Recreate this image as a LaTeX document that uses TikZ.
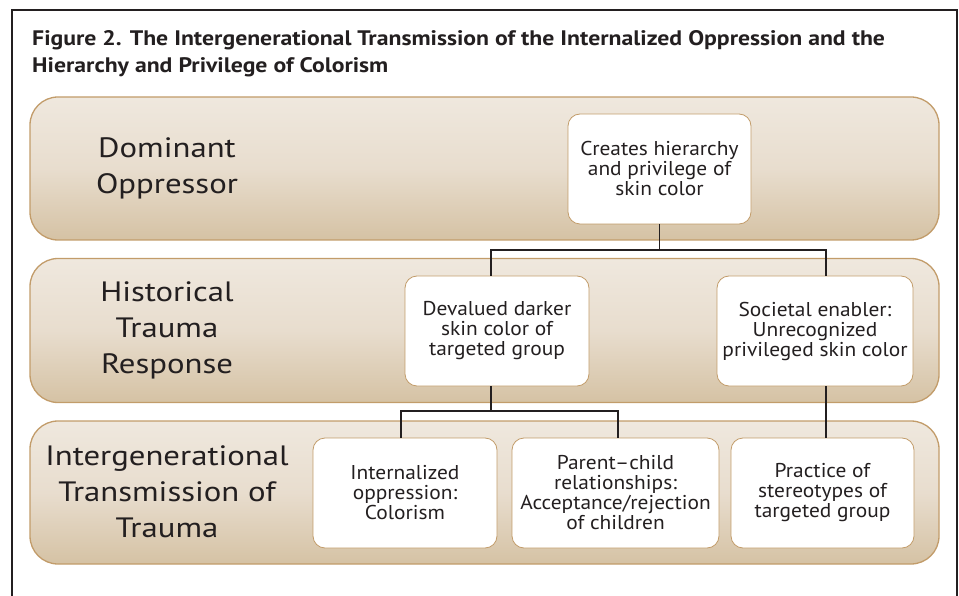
\documentclass[tikz,border=0pt]{standalone}
\usepackage{fontspec}
\setmainfont{PT Sans}
\newfontfamily\titlefont[FakeStretch=1.13,Ligatures=TeX]{PT Sans}
\newfontfamily\labfont[FakeStretch=1.17,Ligatures=TeX]{PT Sans}
\newfontfamily\boxfont[FakeStretch=1.07,Ligatures=TeX]{PT Sans}
\definecolor{bandtop}{HTML}{EFE8DE}
\definecolor{bandmid}{HTML}{E8DDCE}
\definecolor{bandbot}{HTML}{D5C2A4}
\definecolor{tan}{HTML}{C29C6A}
\definecolor{ink}{HTML}{231F20}
\tikzset{
  band/.style={draw=tan, line width=1.3pt, rounded corners=28pt, top color=bandtop, bottom color=bandbot, middle color=bandmid, inner sep=0pt, outer sep=0pt},
  box/.style={draw=tan, line width=0.8pt, fill=white, rounded corners=12pt, align=center, inner sep=0pt, outer sep=0pt, font=\boxfont\fontsize{20}{20}\selectfont, text=ink},
  lab/.style={align=center, font=\labfont\fontsize{28}{36}\selectfont, text=ink},
  conn/.style={draw=ink, line width=1.6pt},
  frame/.style={draw=ink, line width=2.5pt},
  ttl/.style={anchor=north west, align=left, inner sep=0pt, font=\titlefont\bfseries\fontsize{21}{27}\selectfont, text=ink}
}
\begin{document}
\begin{tikzpicture}[x=1pt,y=-1pt]
\useasboundingbox (0,0) rectangle (959,596);
\coordinate (f1) at (12,600);
\coordinate (f2) at (12,10);
\coordinate (f3) at (957,10);
\coordinate (f4) at (957,600);
\draw[frame] (f1) -- (f2) -- (f3) -- (f4);
\node[ttl] (title) at (32,30) {Figure 2. The Intergenerational Transmission of the Internalized Oppression and the\\Hierarchy and Privilege of Colorism};
% bands
\node[band, minimum width=909pt, minimum height=143pt] (b1) at (484.5,168.5) {};
\node[band, minimum width=909pt, minimum height=144pt] (b2) at (484.5,330.5) {};
\node[band, minimum width=909pt, minimum height=143pt] (b3) at (484.5,492.5) {};
\node[lab] (l1) at (167,168) {Dominant\\Oppressor};
\node[lab] (l2) at (167,330) {Historical\\Trauma\\Response};
\node[lab] (l3) at (167,492) {Intergenerational\\Transmission of\\Trauma};
% boxes
\node[box, minimum width=183pt, minimum height=110pt] (cre) at (659.5,169) {Creates hierarchy\\and privilege of\\skin color};
\node[box, minimum width=184pt, minimum height=110pt] (dev) at (497,331) {Devalued darker\\skin color of\\targeted group};
\node[box, minimum width=196pt, minimum height=110pt] (soc) at (815,331) {Societal enabler:\\Unrecognized\\privileged skin color};
\node[box, minimum width=184pt, minimum height=110pt] (int) at (405,493) {Internalized\\oppression:\\Colorism};
\node[box, minimum width=207pt, minimum height=110pt] (par) at (615.5,493) {Parent–child\\relationships:\\Acceptance/rejection\\of children};
\node[box, minimum width=183pt, minimum height=110pt] (pra) at (822.5,493) {Practice of\\stereotypes of\\targeted group};
% connectors
\coordinate (j1) at (659.5,250);
\coordinate (d1) at (491,250);
\coordinate (s1) at (826,250);
\coordinate (d2) at (401,411);
\coordinate (p2) at (618,411);
\draw[conn] (cre.south) -- (j1);
\draw[conn] (d1 |- dev.north) -- (d1) -- (s1) -- (s1 |- soc.north);
\draw[conn] (d1 |- dev.south) -- (d1 |- d2);
\draw[conn] (d2 |- int.north) -- (d2) -- (p2) -- (p2 |- par.north);
\draw[conn] (s1 |- soc.south) -- (s1 |- pra.north);
\end{tikzpicture}
\end{document}
